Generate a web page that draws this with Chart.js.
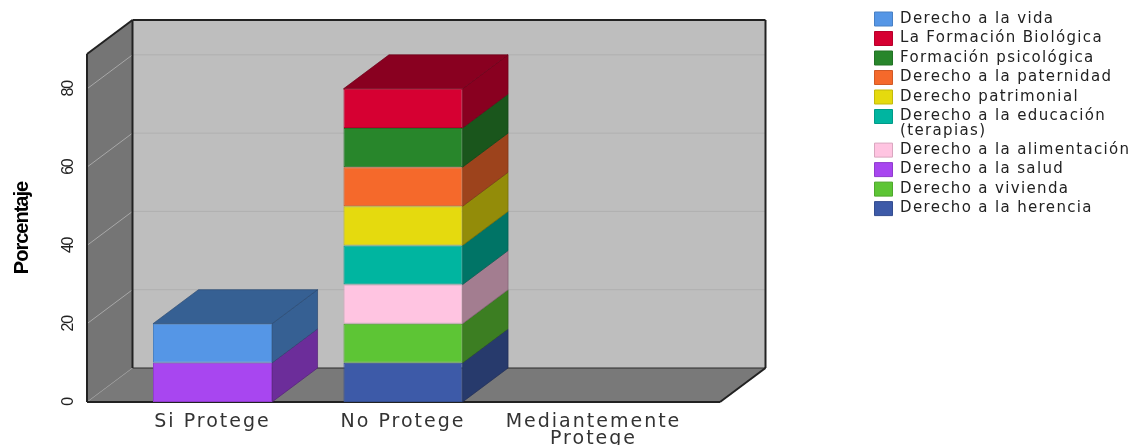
<!DOCTYPE html>
<html><head><meta charset="utf-8">
<style>html,body{margin:0;padding:0;background:#fff}canvas{display:block}</style>
<script src="https://cdn.jsdelivr.net/npm/chart.js@4/dist/chart.umd.min.js"></script>
</head><body>
<canvas id="c" width="1130" height="445"></canvas>
<script>
const categories = [['Si Protege'], ['No Protege'], ['Mediantemente', 'Protege']];
const herencia = [0, 10, 0];
const vivienda = [0, 10, 0];
const salud = [10, 0, 0];
const alimentacion = [0, 10, 0];
const educacion = [0, 10, 0];
const patrimonial = [0, 10, 0];
const paternidad = [0, 10, 0];
const psicologica = [0, 10, 0];
const biologica = [0, 10, 0];
const vida = [10, 0, 0];
const yTicks = [0, 20, 40, 60, 80];
const yMax = 88.9;

const depthX = 45.5, depthY = -34;
const sidePadL = 30.25, sidePadR = 31.25;

function shade(hex, f) {
  const n = parseInt(hex.slice(1), 16);
  return 'rgb(' + [(n >> 16) & 255, (n >> 8) & 255, n & 255].map(v => Math.round(v * f)).join(',') + ')';
}
function poly(ctx, pts, fill, stroke, lw) {
  ctx.beginPath();
  pts.forEach((p, i) => i ? ctx.lineTo(p[0], p[1]) : ctx.moveTo(p[0], p[1]));
  ctx.closePath();
  if (fill) { ctx.fillStyle = fill; ctx.fill(); }
  if (stroke) { ctx.strokeStyle = stroke; ctx.lineWidth = lw || 1; ctx.stroke(); }
}
function seg(ctx, x1, y1, x2, y2, c, w) {
  ctx.beginPath(); ctx.moveTo(x1, y1); ctx.lineTo(x2, y2);
  ctx.strokeStyle = c; ctx.lineWidth = w; ctx.stroke();
}
function spaced(obj, method, chart, spacing) {
  const orig = obj[method];
  obj[method] = function () {
    chart.ctx.letterSpacing = spacing;
    const r = orig.apply(this, arguments);
    chart.ctx.letterSpacing = '0px';
    return r;
  };
}

const box3d = {
  id: 'box3d',
  afterLayout(chart) {
    const l = chart.legend;
    l.left = 870; l.right = 1130; l.top = 7; l.bottom = 240; l.width = 260; l.height = 233;
    if (!chart.$spaced) {
      chart.$spaced = true;
      spaced(l, 'draw', chart, '1.35px');
      spaced(chart.scales.x, 'drawLabels', chart, '2px');
      spaced(chart.scales.y, 'drawLabels', chart, '-1.2px');
      spaced(chart.scales.y, 'drawTitle', chart, '-1px');
    }
  },
  beforeDatasetsDraw(chart) {
    const ctx = chart.ctx, a = chart.chartArea, y = chart.scales.y;
    const L = a.left - sidePadL, R = a.right + sidePadR, B = y.getPixelForValue(0), T = y.getPixelForValue(yMax);
    ctx.save();
    poly(ctx, [[L + depthX, T + depthY], [R + depthX, T + depthY], [R + depthX, B + depthY], [L + depthX, B + depthY]], '#BEBEBE');
    poly(ctx, [[L, B], [L + depthX, B + depthY], [L + depthX, T + depthY], [L, T]], '#757575');
    poly(ctx, [[L, B], [R, B], [R + depthX, B + depthY], [L + depthX, B + depthY]], '#797979');
    yTicks.forEach(v => {
      if (!v) return;
      const p = y.getPixelForValue(v);
      seg(ctx, L + depthX, p + depthY, R + depthX, p + depthY, '#B0B0B0', 1);
      seg(ctx, L, p, L + depthX, p + depthY, '#A8A8A8', 1);
    });
    seg(ctx, L + depthX, B + depthY, R + depthX, B + depthY, '#2a2a2a', 1);
    seg(ctx, L, B, L + depthX, B + depthY, '#9a9a9a', 0.7);
    seg(ctx, L + depthX, T + depthY, R + depthX, T + depthY, '#222', 2);
    seg(ctx, L + depthX, T + depthY, L + depthX, B + depthY, '#222', 2);
    seg(ctx, R + depthX, T + depthY, R + depthX, B + depthY, '#222', 2);
    seg(ctx, L, T, L + depthX, T + depthY, '#222', 2);
    seg(ctx, L, T, L, B, '#222', 2);
    seg(ctx, L, B, R, B, '#222', 2);
    seg(ctx, R, B, R + depthX, B + depthY, '#222', 2);

    const tops = {};
    chart.data.datasets.forEach((ds, di) => {
      chart.getDatasetMeta(di).data.forEach((el, i) => {
        if (ds.data[i]) tops[i] = di;
      });
    });
    chart.data.datasets.forEach((ds, di) => {
      chart.getDatasetMeta(di).data.forEach((el, i) => {
        if (!ds.data[i]) return;
        const dark = shade(ds.backgroundColor, 0.64);
        const edge = shade(ds.backgroundColor, 0.5);
        const x2 = el.x + el.width / 2, x1 = el.x - el.width / 2;
        poly(ctx, [[x2, el.base], [x2 + depthX, el.base + depthY], [x2 + depthX, el.y + depthY], [x2, el.y]], dark, edge, 0.7);
        if (tops[i] === di) {
          poly(ctx, [[x1, el.y], [x1 + depthX, el.y + depthY], [x2 + depthX, el.y + depthY], [x2, el.y]], dark, edge, 0.7);
        }
      });
    });
    ctx.restore();
  }
};

function ds(label, data, color) {
  return { label, data, backgroundColor: color, borderColor: shade(color, 0.85), borderWidth: 1, borderSkipped: false,
           barPercentage: 0.625, categoryPercentage: 1 };
}

new Chart(document.getElementById('c'), {
  type: 'bar',
  data: {
    labels: categories,
    datasets: [
      ds('Derecho a la herencia', herencia, '#3D5AA8'),
      ds('Derecho a vivienda', vivienda, '#5DC535'),
      ds('Derecho a la salud', salud, '#A846F0'),
      ds('Derecho a la alimentación', alimentacion, '#FFC4E1'),
      ds(['Derecho a la educación', '(terapias)'], educacion, '#00B5A0'),
      ds('Derecho patrimonial', patrimonial, '#E5DA0E'),
      ds('Derecho a la paternidad', paternidad, '#F5692B'),
      ds('Formación psicológica', psicologica, '#28862B'),
      ds('La Formación Biológica', biologica, '#D60032'),
      ds('Derecho a la vida', vida, '#5596E6')
    ]
  },
  options: {
    responsive: false,
    animation: false,
    events: [],
    layout: { autoPadding: false, padding: { top: 54, right: 441.25, bottom: 0, left: 0 } },
    scales: {
      x: {
        stacked: true,
        offset: true,
        grid: { display: false },
        border: { display: false },
        afterFit(s) { s.height = 43; },
        ticks: { color: '#333', maxRotation: 0, minRotation: 0, padding: 3.5,
                 font: { family: '"DejaVu Sans"', size: 19, lineHeight: 0.9 } }
      },
      y: {
        stacked: true,
        min: 0,
        max: yMax,
        afterFit(s) { s.width = 117.25; s.paddingTop = 0; s.paddingBottom = 0; },
        grid: { display: false, drawTicks: false },
        border: { display: false },
        title: { display: true, text: 'Porcentaje', color: '#000', padding: { top: 10, bottom: 0 },
                 font: { family: '"Liberation Sans"', size: 20, weight: 'bold', lineHeight: 1.2 } },
        ticks: { stepSize: 20, includeBounds: false, color: '#222', minRotation: 90, maxRotation: 90,
                 crossAlign: 'center', padding: 40,
                 font: { family: '"Liberation Sans"', size: 16 } }
      }
    },
    plugins: {
      tooltip: { enabled: false },
      legend: {
        position: 'chartArea',
        align: 'start',
        reverse: true,
        labels: { boxWidth: 18, boxHeight: 14, padding: 4.5, color: '#222',
                  font: { family: '"DejaVu Sans"', size: 15, lineHeight: 0.97 } }
      }
    }
  },
  plugins: [box3d]
});
</script>
</body></html>
